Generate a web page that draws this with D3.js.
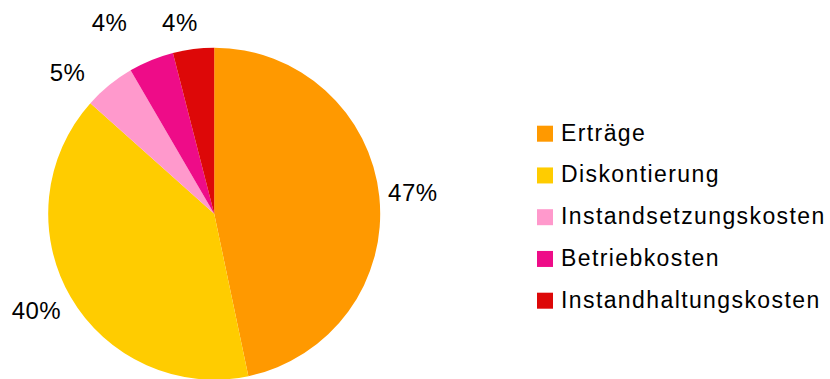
<!DOCTYPE html>
<html>
<head>
<meta charset="utf-8">
<script src="https://cdn.jsdelivr.net/npm/d3@7"></script>
<style>
  body { margin: 0; background: #fff; }
  text { font-family: "Liberation Sans", Arial, sans-serif; fill: #000; }
</style>
</head>
<body>
<div id="container"></div>
<script>
const width = 830,
  height = 379;

/* DATA */
const categories = ["Erträge", "Diskontierung", "Instandsetzungskosten", "Betriebkosten", "Instandhaltungskosten"];
const shares = [46.7, 39.9, 5.0, 4.4, 4.0];
const colors = ["#ff9900", "#ffcc00", "#ff99cc", "#ee0c88", "#dd0808"];
// hand nudges so the % labels sit where the original put them
const labelNudge = [[-1, -2], [-4, 4], [-24, 2], [-31, -20], [-10, -8]];

const cx = 214.2, cy = 213.7, radius = 166;

const svg = d3.select("#container").append("svg")
  .attr("width", width)
  .attr("height", height)

const color = d3.scaleOrdinal().domain(categories).range(colors)

const pie = d3.pie().sort(null).value(d => d.value)
const arcs = pie(categories.map((c, i) => ({ name: c, value: shares[i] })))
const arc = d3.arc().innerRadius(0).outerRadius(radius)

const g = svg.append("g")
  .attr("transform", `translate(${cx},${cy})`)

g.selectAll("path.slice")
  .data(arcs)
  .join("path")
  .attr("class", "slice")
  .attr("d", arc)
  .attr("fill", d => color(d.data.name))

/* PERCENT LABELS */
const total = d3.sum(shares)
const labelR = 176

g.selectAll("text.pct")
  .data(arcs)
  .join("text")
  .attr("class", "pct")
  .attr("font-size", "24px")
  .attr("letter-spacing", "0.5px")
  .attr("text-anchor", "middle")
  .attr("dominant-baseline", "central")
  .text(d => Math.round(d.data.value / total * 100) + "%")
  .each(function (d, i) {
    const a = (d.startAngle + d.endAngle) / 2
    const w = this.getComputedTextLength()
    const px = Math.sin(a) * labelR, py = -Math.cos(a) * labelR
    const x = px + Math.sin(a) * w / 2 + labelNudge[i][0]
    const y = py - Math.cos(a) * 9 + labelNudge[i][1]
    d3.select(this).attr("x", x).attr("y", y)
  })

/* LEGEND */
const yLegend = d3.scalePoint()
  .domain(categories)
  .range([133.7, 300.7])

const legend = svg.selectAll("g.legend")
  .data(categories)
  .join("g")
  .attr("class", "legend")
  .attr("transform", d => `translate(537,${yLegend(d)})`)

legend.append("rect")
  .attr("x", 0)
  .attr("y", -8)
  .attr("width", 16)
  .attr("height", 16)
  .attr("fill", d => color(d))

legend.append("text")
  .attr("x", 24)
  .attr("y", 7)
  .attr("font-size", "23px")
  .attr("letter-spacing", "1.4px")
  .text(d => d)
</script>
</body>
</html>
